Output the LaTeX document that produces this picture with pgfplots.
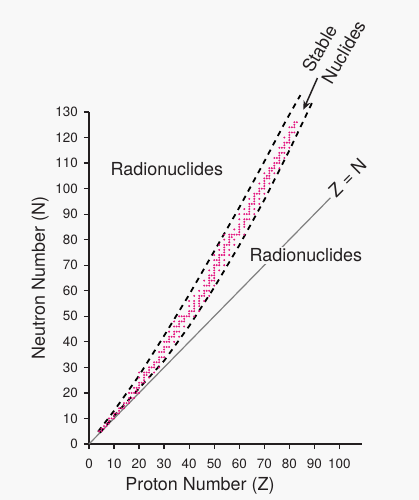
\documentclass[border=0pt]{standalone}
\usepackage{fontspec}
\setmainfont{TeX Gyre Heros}
\usepackage{pgfplots}
\usepackage{pgfplotstable}
\pgfplotsset{compat=1.18}
\usetikzlibrary{arrows.meta}

\definecolor{bg}{RGB}{248,248,248}
\definecolor{ink}{RGB}{35,31,32}
\definecolor{nuclide}{RGB}{228,22,128}
\definecolor{zline}{RGB}{128,128,128}

% stable nuclides: proton number Z, neutron number N
\pgfplotstableread{
Z N
4 5
5 5
5 6
6 6
6 7
7 7
7 8
8 8
8 9
8 10
9 10
10 10
10 11
10 12
11 12
12 12
12 13
12 14
13 14
14 14
14 15
14 16
15 16
16 16
16 17
16 18
16 20
17 18
17 20
18 18
18 20
18 22
19 20
19 21
19 22
20 20
20 22
20 23
20 24
20 26
20 28
21 24
22 24
22 25
22 26
22 27
22 28
23 27
23 28
24 26
24 28
24 29
24 30
25 30
26 28
26 30
26 31
26 32
27 32
28 30
28 32
28 33
28 34
28 36
29 34
29 36
30 34
30 36
30 37
30 38
30 40
31 38
31 40
32 38
32 40
32 41
32 42
32 44
33 42
34 40
34 42
34 43
34 44
34 46
34 48
35 44
35 46
36 42
36 44
36 46
36 47
36 48
36 50
37 48
37 50
38 46
38 48
38 49
38 50
39 50
40 50
40 51
40 52
40 54
40 56
41 52
42 50
42 52
42 53
42 54
42 55
42 56
42 58
44 52
44 54
44 55
44 56
44 57
44 58
44 60
45 58
46 56
46 58
46 59
46 60
46 62
46 64
47 60
47 62
48 58
48 60
48 62
48 63
48 64
48 65
48 66
48 68
49 64
49 66
50 62
50 64
50 65
50 66
50 67
50 68
50 69
50 70
50 72
50 74
51 70
51 72
52 68
52 70
52 71
52 72
52 73
52 74
52 76
52 78
53 74
54 70
54 72
54 74
54 75
54 76
54 77
54 78
54 80
54 82
55 78
56 74
56 76
56 78
56 79
56 80
56 81
56 82
57 81
57 82
58 78
58 80
58 82
58 84
59 82
60 82
60 83
60 84
60 85
60 86
60 88
60 90
62 82
62 85
62 86
62 87
62 88
62 90
62 92
63 88
63 90
64 88
64 90
64 91
64 92
64 93
64 94
64 96
65 94
66 90
66 92
66 94
66 95
66 96
66 97
66 98
67 98
68 94
68 96
68 98
68 99
68 100
68 102
69 100
70 98
70 100
70 101
70 102
70 103
70 104
70 106
71 104
71 105
72 102
72 104
72 105
72 106
72 107
72 108
73 107
73 108
74 106
74 108
74 109
74 110
74 112
75 110
75 112
76 108
76 110
76 111
76 112
76 113
76 114
76 116
77 114
77 116
78 112
78 114
78 116
78 117
78 118
78 120
79 118
80 116
80 118
80 119
80 120
80 121
80 122
80 124
81 122
81 124
82 122
82 124
82 125
82 126
83 126
}\stable

\begin{document}
\begin{tikzpicture}
\fill[bg] (-89bp,-56bp) rectangle (330bp,444bp);
\path[use as bounding box] (-89bp,-56bp) rectangle (330bp,444bp);
\begin{axis}[
  at={(0,0)}, anchor=south west,
  scale only axis,
  width=273bp, height=332bp,
  xmin=0, xmax=109, ymin=0, ymax=130,
  axis x line*=bottom, axis y line*=left,
  axis line style={ink, line width=1.5bp, -},
  xtick={0,10,...,100}, ytick={0,10,...,130},
  tick align=outside, major tick length=5bp,
  tick style={ink, line width=1.3bp},
  ticklabel style={ink, font=\fontsize{13.5}{15}\selectfont},
  /pgf/number format/assume math mode=true,
  xticklabel style={anchor=north, inner sep=0pt, yshift=-10bp},
  yticklabel style={anchor=east, inner sep=0pt, xshift=-6bp},
  xlabel={Proton Number (Z)},
  xlabel style={at={(axis description cs:0.4066,-0.1386)}, anchor=base,
    font=\fontsize{18}{20}\selectfont, text=ink},
  ylabel={Neutron Number (N)},
  ylabel style={at={(axis description cs:-0.1612,0.5)}, anchor=base,
    font=\fontsize{18}{20}\selectfont, text=ink},
  clip=false,
]
\addplot[zline, line width=1.2bp] coordinates {(0,0) (96.4,96.4)};
\addplot[only marks, mark=*, mark size=0.75bp, color=nuclide] table {\stable};
\addplot[black, line width=1.8bp, dash pattern=on 5.5bp off 5bp] coordinates {
  (3.6,4.8) (10,13) (20,26.8) (30,42.4) (40,58.5) (50,75.5)
  (60,92.6) (70,110.6) (78.4,126.2) (84.4,136.6)};
\addplot[black, line width=1.8bp, dash pattern=on 5.5bp off 5bp] coordinates {
  (4.4,4.4) (10,11) (20,21.8) (30,32.6) (40,46.2) (50,61.3)
  (60,77.8) (70,95.6) (80,115.0) (89.2,133.9)};

\node[anchor=base, text=ink, font=\fontsize{18}{20}\selectfont]
  at (axis cs:31.1,105.3) {Radionuclides};
\node[anchor=base, text=ink, fill=bg, inner sep=1.5bp, font=\fontsize{18}{20}\selectfont]
  at (axis cs:86.6,71.3) {Radionuclides};
\node[rotate=45, text=ink, font=\fontsize{18}{20}\selectfont]
  at (axis cs:103.2,104.2) {Z = N};
\node[rotate=60, align=left, text=ink, font=\fontsize{18}{22.6}\selectfont]
  at (axis cs:97.7,155.7) {Stable\\Nuclides};
\draw[ink, line width=1.5bp, -{Stealth[length=9bp,width=7.5bp]}]
  (axis cs:91.2,143.3) -- (axis cs:85.6,130.9);
\end{axis}
\end{tikzpicture}
\end{document}
